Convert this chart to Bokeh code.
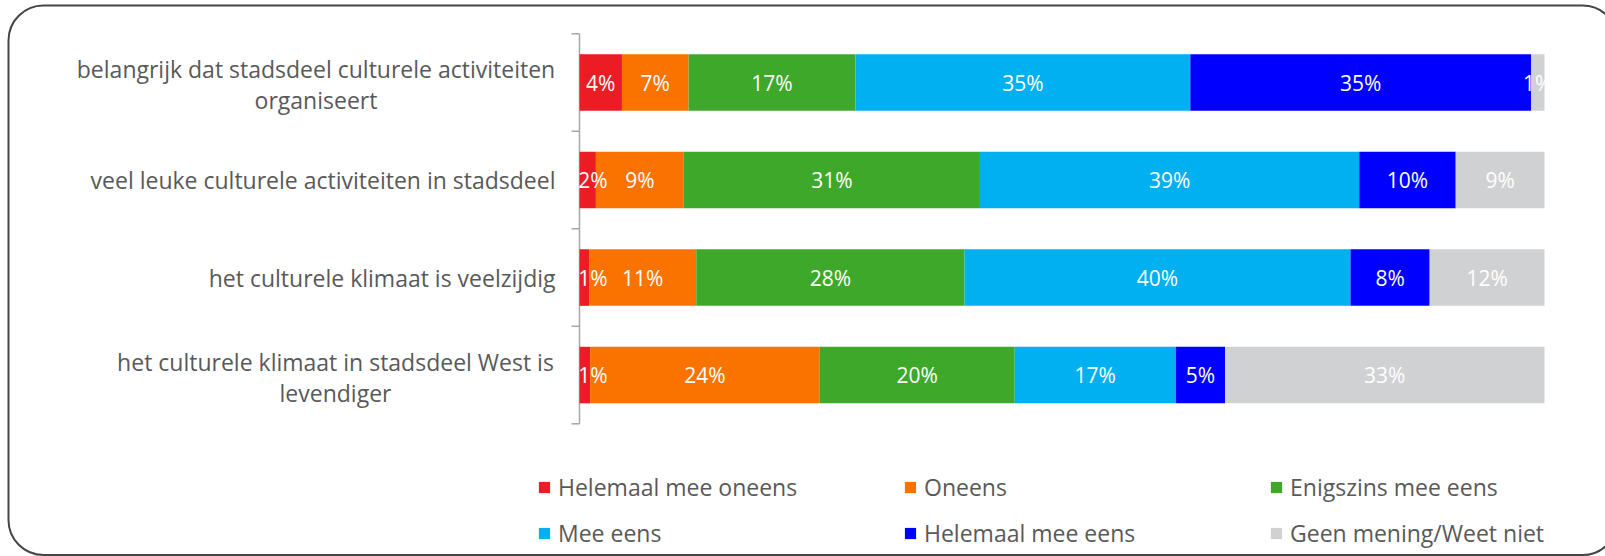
import math
from bokeh.plotting import figure
from bokeh.models import ColumnDataSource, Range1d, Legend, LegendItem
from bokeh.core.properties import value
from bokeh.embed import file_html
from bokeh.resources import INLINE

# ---- data (percentages per statement, top to bottom) ----
categories = [
    "belangrijk dat stadsdeel culturele activiteiten\norganiseert",
    "veel leuke culturele activiteiten in stadsdeel",
    "het culturele klimaat is veelzijdig",
    "het culturele klimaat in stadsdeel West is\nlevendiger",
]
series_names = [
    "Helemaal mee oneens",
    "Oneens",
    "Enigszins mee eens",
    "Mee eens",
    "Helemaal mee eens",
    "Geen mening/Weet niet",
]
helemaal_mee_oneens = [4.4, 1.7, 1.0, 1.1]
oneens = [6.9, 9.1, 11.1, 23.8]
enigszins_mee_eens = [17.3, 30.7, 27.8, 20.2]
mee_eens = [34.7, 39.3, 40.0, 16.7]
helemaal_mee_eens = [35.3, 10.0, 8.2, 5.1]
geen_mening = [1.4, 9.2, 11.9, 33.1]

# ---- styling / layout constants ----
colors = ["#EC1C24", "#FA7300", "#3DA82A", "#00B0F0", "#0000FF", "#D0D1D3"]
label_font = "Open Sans"
text_color = "#595959"
axis_color = "#a6a6a6"
W, H = 1605, 556                 # canvas size
X0_PX, X1_PX = 579, 1544         # pixel position of 0 % and 100 %
Y_TOP_PX, Y_BOT_PX = 33.3, 423.3 # pixel extent of the category bands
LABEL_GAP = 24                   # gap between category label and axis
TWO_LINE_WIDTH = [479, None, None, 440]   # approx. width of first line for centred 2-line labels
MIN_LABEL_X = 1.4                # keep tiny-segment labels next to the axis
FRAME_BOX = (8, 5, W + 12, H - 1.5)       # left, top, right, bottom of the rounded outer frame

series_values = [helemaal_mee_oneens, oneens, enigszins_mee_eens,
                 mee_eens, helemaal_mee_eens, geen_mening]
keys = ["s%d" % i for i in range(len(series_values))]
n = len(categories)
ypos = [n - i - 0.5 for i in range(n)]

ppx = (X1_PX - X0_PX) / 100.0
ppy = (Y_BOT_PX - Y_TOP_PX) / n
x_start = -X0_PX / ppx
x_end = 100 + (W - X1_PX) / ppx
y_end = n + Y_TOP_PX / ppy
y_start = -(H - Y_BOT_PX) / ppy


def dx(px):
    return x_start + px / ppx


def dy(py):
    return y_end - py / ppy


# normalise every row to 100 % (100 % stacked bar)
totals = [sum(s[i] for s in series_values) for i in range(n)]
data = {"y": ypos}
for k, s in zip(keys, series_values):
    data[k] = [v / t * 100 for v, t in zip(s, totals)]
source = ColumnDataSource(data)

p = figure(width=W, height=H, x_range=Range1d(x_start, x_end), y_range=Range1d(y_start, y_end),
           x_axis_location=None, y_axis_location=None,
           output_backend="svg", toolbar_location=None, min_border=0)
p.outline_line_color = None
p.xgrid.visible = False
p.ygrid.visible = False
p.background_fill_color = "white"
p.border_fill_color = "white"

# rounded frame around the chart
fl, ft, fr, fb = FRAME_BOX
p.quad(left=[dx(fl)], right=[dx(fr)], top=[dy(ft)], bottom=[dy(fb)],
       fill_color=None, line_color="#454545", line_width=2, border_radius=35)

# category axis: line and boundary ticks
p.segment(x0=[0], y0=[0], x1=[0], y1=[n], line_color=axis_color, line_width=1.5)
p.ray(x=[0] * (n + 1), y=list(range(n + 1)), length=8, length_units="screen",
      angle=math.pi, line_color=axis_color, line_width=1.5)

renderers = p.hbar_stack(keys, y="y", height=0.58, source=source,
                         color=colors, line_color=None)

# category labels
for i, cat in enumerate(categories):
    if "\n" in cat:
        off = -LABEL_GAP - TWO_LINE_WIDTH[i] / 2
        align = "center"
        yoff = 2
    else:
        off = -LABEL_GAP
        align = "right"
        yoff = 0
    p.text(x=[0], y=[ypos[i]], text=[cat], x_offset=off, y_offset=yoff,
           text_align=align, text_baseline="middle", text_line_height=0.97,
           text_color=text_color, text_font=value(label_font), text_font_size="23px")

# data labels
lx, ly, lt = [], [], []
for i in range(n):
    left = 0.0
    for k, s in zip(keys, series_values):
        w = data[k][i]
        lx.append(max(left + w / 2, MIN_LABEL_X))
        ly.append(ypos[i])
        lt.append("%d%%" % round(s[i]))
        left += w
p.text(x=lx, y=ly, text=lt, text_color="white", text_align="center",
       text_baseline="middle", text_font=value(label_font), text_font_size="21px")

legend = Legend(items=[LegendItem(label=nm, renderers=[r]) for nm, r in zip(series_names, renderers)],
                orientation="horizontal", ncols=3,
                location=(537, 7), padding=0, margin=0, border_line_alpha=0,
                background_fill_alpha=0,
                glyph_width=14, glyph_height=14, label_standoff=7,
                label_width=331, label_height=32, spacing=14,
                label_text_font=label_font, label_text_font_size="23px",
                label_text_color=text_color)
p.add_layout(legend, "center")

open("out.html", "w").write(file_html(p, INLINE))
